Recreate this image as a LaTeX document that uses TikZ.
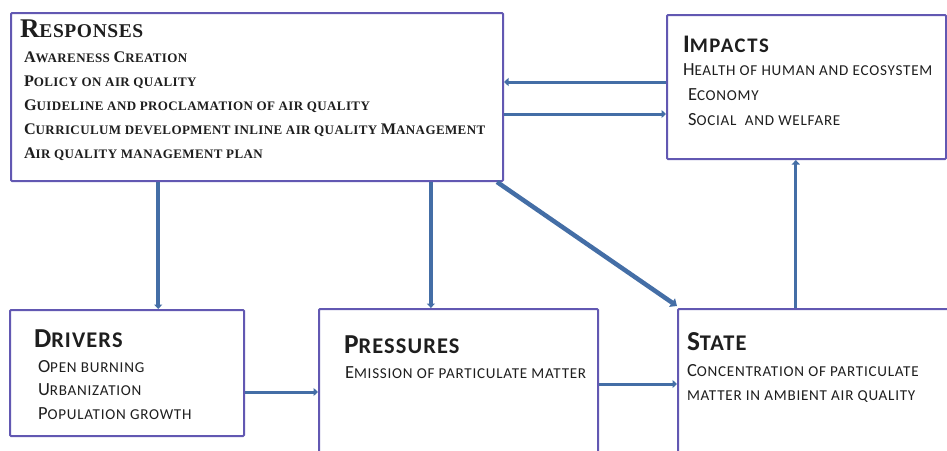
\documentclass[tikz,border=0pt]{standalone}
\usepackage{fontspec}
\setmainfont{Carlito}
\newfontfamily\respfont{Liberation Serif}
\usetikzlibrary{arrows.meta,calc}
\definecolor{boxc}{RGB}{98,88,178}
\definecolor{arrc}{RGB}{68,110,166}
\definecolor{txtc}{RGB}{30,30,30}
\newcommand\fs[1]{\fontsize{#1}{#1}\selectfont}
\newcommand\B[1]{{\Bsz #1}}
\def\Bsz{}
\newcommand\rtitle{\respfont\bfseries\addfontfeature{LetterSpace=3}\fs{19.5}\def\Bsz{\fs{27}}}
\newcommand\ritem{\respfont\bfseries\addfontfeature{LetterSpace=3}\fs{13}\def\Bsz{\fs{16.2}}}
\newcommand\stitle{\bfseries\addfontfeature{LetterSpace=5}\fs{22.4}\def\Bsz{\fs{27.4}}}
\newcommand\ititle{\bfseries\addfontfeature{LetterSpace=8}\fs{20.7}\def\Bsz{\fs{25.3}}}
\newcommand\sitem{\addfontfeature{LetterSpace=5}\fs{15.1}\def\Bsz{\fs{18.5}}}
\tikzset{
  box/.style={draw=boxc, line width=2pt, rounded corners=1pt, inner sep=0pt,
    anchor=north west, fill=white},
  lbl/.style={anchor=base west, inner sep=0pt, outer sep=0pt, text=txtc},
  arr/.style={draw=arrc, line width=3pt, -{Triangle[length=4.5pt,width=8pt]}},
  thickarr/.style={draw=arrc, line width=4.5pt, -{Triangle[length=6pt,width=10pt]}}
}
\begin{document}
\begin{tikzpicture}[x=1pt,y=-1pt]
\useasboundingbox (0,0) rectangle (947,450);
\clip (0,0) rectangle (947,450);
\fill[white] (0,0) rectangle (947,450);
% boxes
\node[box, minimum width=492pt, minimum height=168pt] (resp) at (10,12) {};
\node[box, minimum width=279pt, minimum height=144pt] (imp) at (666,14) {};
\node[box, minimum width=234pt, minimum height=126pt] (drv) at (9,309) {};
\node[box, minimum width=279pt, minimum height=200pt] (prs) at (318,308) {};
\node[box, minimum width=300pt, minimum height=200pt] (sta) at (677,308) {};
% responses text
\node[lbl] (rt) at (20,37) {\rtitle\B{R}ESPONSES};
\node[lbl] (r1) at (24,62) {\ritem\B{A}WARENESS \B{C}REATION};
\node[lbl] (r2) at (24,86) {\ritem\B{P}OLICY ON AIR QUALITY};
\node[lbl] (r3) at (24,110) {\ritem\B{G}UIDELINE AND PROCLAMATION OF AIR QUALITY};
\node[lbl] (r4) at (24,134) {\ritem\B{C}URRICULUM DEVELOPMENT INLINE AIR QUALITY \B{M}ANAGEMENT};
\node[lbl] (r5) at (24,158) {\ritem\B{A}IR QUALITY MANAGEMENT PLAN};
% impacts text
\node[lbl] (it) at (683,52) {\ititle\B{I}MPACTS};
\node[lbl] (i1) at (683,75) {\sitem\B{H}EALTH OF HUMAN AND ECOSYSTEM};
\node[lbl] (i2) at (688,100) {\sitem\B{E}CONOMY};
\node[lbl] (i3) at (688,125) {\sitem\B{S}OCIAL\ \ AND WELFARE};
% drivers text
\node[lbl] (dt) at (34,347) {\stitle\B{D}RIVERS};
\node[lbl] (d1) at (38,372) {\sitem\B{O}PEN BURNING};
\node[lbl] (d2) at (38,395) {\sitem\B{U}RBANIZATION};
\node[lbl] (d3) at (38,419) {\sitem\B{P}OPULATION GROWTH};
% pressures text
\node[lbl] (pt) at (344,353) {\stitle\B{P}RESSURES};
\node[lbl] (p1) at (345,378) {\sitem\B{E}MISSION OF PARTICULATE MATTER};
% state text
\node[lbl] (st) at (687,350) {\stitle\B{S}TATE};
\node[lbl] (s1) at (687,376) {\sitem\B{C}ONCENTRATION OF PARTICULATE};
\node[lbl] (s2) at (687,400) {\sitem MATTER IN AMBIENT AIR QUALITY};
% connectors
\coordinate (a1) at ([yshift=5pt]imp.west);
\draw[arr] (a1) -- (a1 -| resp.east);
\coordinate (a2) at ([yshift=-27pt]imp.west);
\draw[arr] (a2 -| resp.east) -- (a2);
\coordinate (a3) at ($(resp.south west)!0.3!(resp.south east)$);
\draw[arr, line width=3.5pt] (a3) -- (a3 |- drv.north);
\coordinate (a4) at ($(resp.south west)!0.852!(resp.south east)$);
\draw[arr, line width=3.5pt] (a4) -- (a4 |- prs.north);
\draw[thickarr] ([xshift=-7pt]resp.south east) -- ([yshift=2pt]sta.north west);
\coordinate (a5) at ($(imp.south west)!0.462!(imp.south east)$);
\draw[arr] (a5 |- sta.north) -- (a5);
\coordinate (a6) at ([yshift=-19pt]drv.east);
\draw[arr] (a6) -- (a6 -| prs.west);
\coordinate (a7) at ([yshift=25pt]prs.east);
\draw[arr] (a7) -- (a7 -| sta.west);
\end{tikzpicture}
\end{document}
